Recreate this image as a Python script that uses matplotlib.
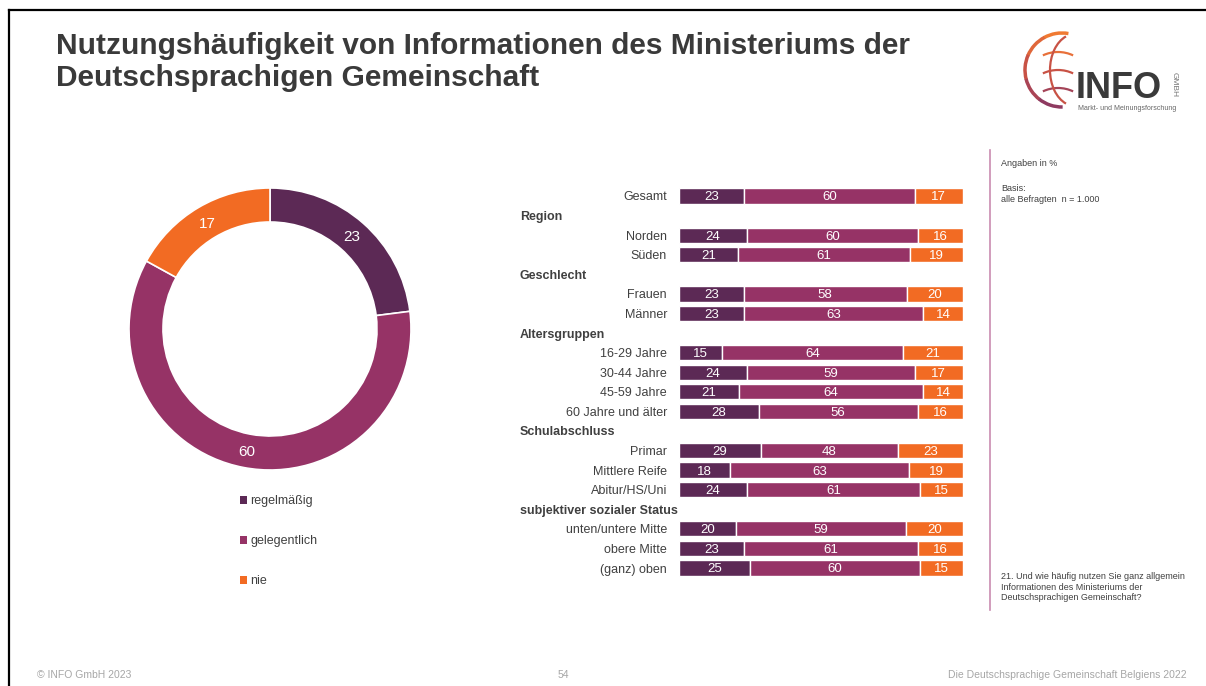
import numpy as np
import matplotlib
matplotlib.use("Agg")
import matplotlib.pyplot as plt
from matplotlib.patches import Patch, Arc
from matplotlib.lines import Line2D

plt.rcParams["font.family"] = ["Liberation Sans", "DejaVu Sans"]

# ---- data -------------------------------------------------------------
SERIES = ["regelmäßig", "gelegentlich", "nie"]
COLORS = ["#5C2955", "#963366", "#F26B23"]

DONUT = [23, 60, 17]

ROW_LABELS = ["Gesamt",
              "Region", "Norden", "Süden",
              "Geschlecht", "Frauen", "Männer",
              "Altersgruppen", "16-29 Jahre", "30-44 Jahre", "45-59 Jahre",
              "60 Jahre und älter",
              "Schulabschluss", "Primar", "Mittlere Reife", "Abitur/HS/Uni",
              "subjektiver sozialer Status", "unten/untere Mitte",
              "obere Mitte", "(ganz) oben"]
HEADERS = ["Region", "Geschlecht", "Altersgruppen", "Schulabschluss",
           "subjektiver sozialer Status"]

# values per (non-header) row, same order as ROW_LABELS without headers
REGELMAESSIG = [23, 24, 21, 23, 23, 15, 24, 21, 28, 29, 18, 24, 20, 23, 25]
GELEGENTLICH = [60, 60, 61, 58, 63, 64, 59, 64, 56, 48, 63, 61, 59, 61, 60]
NIE = [17, 16, 19, 20, 14, 21, 17, 14, 16, 23, 19, 15, 20, 16, 15]

TEXT = "#404040"
W, H = 1206, 686


def fx(x):
    return x / W


def fy(y):
    return 1 - y / H


fig = plt.figure(figsize=(W / 100, H / 100), dpi=100)

# frame lines (slide border, cut at right/bottom)
fig.add_artist(Line2D([fx(9), fx(9)], [fy(10), 0], color="black", lw=1.6))
fig.add_artist(Line2D([fx(9), 1], [fy(10), fy(10)], color="black", lw=1.6))

# title
fig.text(fx(56), fy(62), "Nutzungshäufigkeit von Informationen des Ministeriums der\n"
         "Deutschsprachigen Gemeinschaft", ha="left", va="center",
         fontsize=21.5, fontweight="bold", color="#3A3A3A", linespacing=1.2)

# ---- donut ------------------------------------------------------------
cx, cy, r = 270, 329, 141
side = 300
ax_d = fig.add_axes([fx(cx - side / 2), fy(cy + side / 2), side / W, side / H])
wedges, _ = ax_d.pie(DONUT, colors=COLORS, startangle=90, counterclock=False,
                     radius=1, wedgeprops=dict(width=34 / r, edgecolor="white",
                                               linewidth=1.2))
lim = side / 2 / r
ax_d.set_xlim(-lim, lim)
ax_d.set_ylim(-lim, lim)
ax_d.set_aspect("equal")
ax_d.axis("off")
for w, v in zip(wedges, DONUT):
    ang = np.deg2rad((w.theta1 + w.theta2) / 2)
    ax_d.text(0.88 * np.cos(ang), 0.88 * np.sin(ang), str(v), color="white",
              ha="center", va="center_baseline", fontsize=11)

# legend
handles = [Patch(facecolor=c, edgecolor="none") for c in COLORS]
fig.legend(handles, SERIES, loc="upper left",
           bbox_to_anchor=(fx(229), fy(484)), frameon=False, fontsize=9,
           handlelength=0.55, handleheight=0.55, handletextpad=0.25,
           labelspacing=2.25, labelcolor=TEXT)

# ---- stacked bars -------------------------------------------------------
n = len(ROW_LABELS)
y0, y1 = 196, 568
step = (y1 - y0) / (n - 1)
top = y0 - step / 2
bottom = y1 + step / 2
bx0, bx1 = 679, 963
ax = fig.add_axes([fx(bx0), fy(bottom), (bx1 - bx0) / W, (bottom - top) / H])

data_rows = [i for i, lab in enumerate(ROW_LABELS) if lab not in HEADERS]
vals = np.array([REGELMAESSIG, GELEGENTLICH, NIE], dtype=float)
share = vals / vals.sum(axis=0) * 100
left = np.zeros(len(data_rows))
for k in range(3):
    ax.barh(data_rows, share[k], left=left, height=0.78, color=COLORS[k],
            edgecolor="white", linewidth=1)
    for yy, l, s, v in zip(data_rows, left, share[k], vals[k]):
        ax.text(l + s / 2, yy, f"{v:.0f}", ha="center", va="center_baseline",
                color="white", fontsize=9.5)
    left += share[k]

ax.set_xlim(0, 100)
ax.set_ylim(n - 0.5, -0.5)
ax.axis("off")

lab_x = (667 - bx0) / (bx1 - bx0) * 100
head_x = (520 - bx0) / (bx1 - bx0) * 100
for i, lab in enumerate(ROW_LABELS):
    if lab in HEADERS:
        ax.text(head_x, i, lab, ha="left", va="center_baseline", fontsize=9,
                fontweight="bold", color=TEXT, clip_on=False)
    else:
        ax.text(lab_x, i, lab, ha="right", va="center_baseline", fontsize=9,
                color=TEXT, clip_on=False)

# ---- side notes -------------------------------------------------------------
fig.add_artist(Line2D([fx(990), fx(990)], [fy(150), fy(610)],
                      color="#C98BB0", lw=1.2))
fig.text(fx(1001), fy(163), "Angaben in %", fontsize=6.5, color=TEXT,
         va="center")
fig.text(fx(1001), fy(194), "Basis:\nalle Befragten  n = 1.000", fontsize=6.5,
         color=TEXT, va="center", linespacing=1.25)
fig.text(fx(1001), fy(587), "21. Und wie häufig nutzen Sie ganz allgemein\n"
         "Informationen des Ministeriums der\n"
         "Deutschsprachigen Gemeinschaft?", fontsize=6.5, color=TEXT,
         va="center", linespacing=1.25)

# ---- footer -----------------------------------------------------------------
FOOT = "#A6A6A6"
fig.text(fx(37), fy(675), "© INFO GmbH 2023", fontsize=7.5, color=FOOT,
         va="center")
fig.text(fx(563), fy(675), "54", fontsize=7.5, color=FOOT, va="center",
         ha="center")
fig.text(fx(1187), fy(675), "Die Deutschsprachige Gemeinschaft Belgiens 2022",
         fontsize=7.5, color=FOOT, va="center", ha="right")

# ---- logo ---------------------------------------------------------------------
lx0, ly0, lw, lh = 1015, 25, 180, 95
ax_l = fig.add_axes([fx(lx0), fy(ly0 + lh), lw / W, lh / H])
ax_l.set_xlim(lx0, lx0 + lw)
ax_l.set_ylim(ly0 + lh, ly0)
ax_l.axis("off")
arc_cols = ["#F07A32", "#E0673A", "#C85245", "#AA4455", "#8E3A60"]
for j, c in enumerate(arc_cols):
    a1 = 80 + j * 38
    ax_l.add_patch(Arc((1062, 70), 74, 74, theta1=-a1 - 39, theta2=-a1,
                       color=c, lw=2.5))
for yy, c in [(52, "#E8703A"), (70, "#C85245"), (88, "#A44458")]:
    ax_l.add_patch(Arc((1058, yy + 25), 60, 50, theta1=-125, theta2=-55,
                       color=c, lw=1.6))
ax_l.add_patch(Arc((1075, 70), 50, 72, theta1=105, theta2=255,
                   color="#C85245", lw=1.6))
ax_l.text(1076, 85, "INFO", fontsize=26, fontweight="bold", color="#3A3A3A",
          ha="left", va="center_baseline")
ax_l.text(1174, 85, "GMBH", fontsize=6, color="#777777", rotation=-90,
          ha="center", va="center")
ax_l.text(1078, 109, "Markt- und Meinungsforschung", fontsize=5,
          color="#666666", ha="left", va="center")

fig.savefig("out.png", dpi=100)
